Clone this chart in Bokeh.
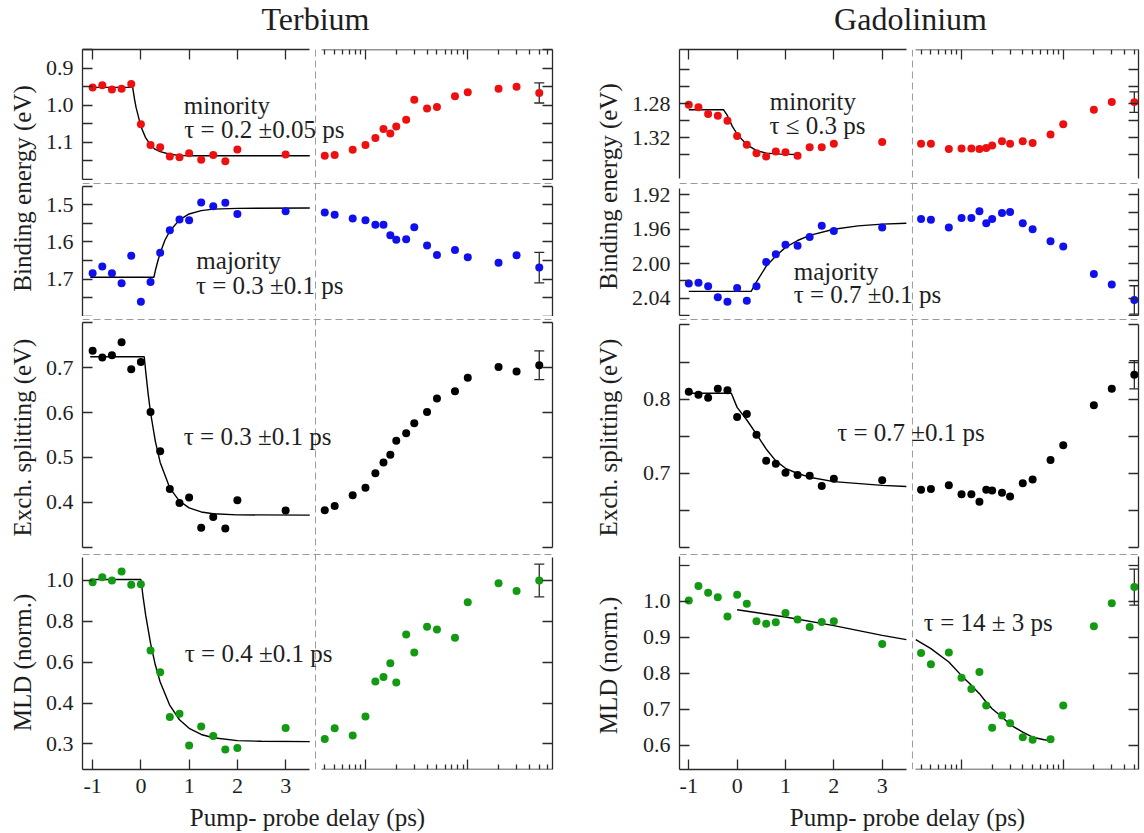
import numpy as np
from bokeh.plotting import figure
from bokeh.models import (Range1d, LinearAxis, FixedTicker, Span, Label, Whisker,
                          TeeHead, ColumnDataSource, LogScale)
from bokeh.layouts import row, column
from bokeh.embed import file_html
from bokeh.resources import INLINE

# ---------------- data ----------------
LIN_T = [-1.0, -0.8, -0.6, -0.4, -0.2, 0.0, 0.2, 0.4, 0.6, 0.8, 1.0, 1.25, 1.5, 1.75, 2.0, 3.0]
LOG_T = [4, 5, 7.5, 10, 12.5, 15, 17.5, 20, 25, 30, 40, 50, 75, 100, 200, 300, 500]

TB_MIN_LIN = [0.952, 0.946, 0.958, 0.956, 0.943, 1.051, 1.107, 1.113, 1.138, 1.140, 1.129, 1.147, 1.134, 1.151, 1.119, 1.133]
TB_MIN_LOG = [1.136, 1.134, 1.120, 1.107, 1.088, 1.064, 1.076, 1.057, 1.039, 0.985, 1.009, 1.005, 0.976, 0.965, 0.956, 0.950, 0.967]
TB_MIN_ERR = 0.027
TB_MAJ_LIN = [1.684, 1.666, 1.684, 1.711, 1.637, 1.761, 1.708, 1.629, 1.569, 1.540, 1.542, 1.494, 1.504, 1.495, 1.525, 1.518]
TB_MAJ_LOG = [1.521, 1.527, 1.537, 1.542, 1.554, 1.554, 1.582, 1.594, 1.593, 1.561, 1.610, 1.635, 1.622, 1.641, 1.656, 1.636, 1.669]
TB_MAJ_ERR = 0.041
TB_EXC_LIN = [0.737, 0.722, 0.727, 0.756, 0.696, 0.712, 0.601, 0.514, 0.430, 0.399, 0.411, 0.344, 0.368, 0.342, 0.405, 0.382]
TB_EXC_LOG = [0.383, 0.392, 0.416, 0.433, 0.465, 0.489, 0.506, 0.537, 0.554, 0.576, 0.601, 0.631, 0.647, 0.677, 0.701, 0.691, 0.705]
TB_EXC_ERR = 0.032
TB_MLD_LIN = [0.992, 1.016, 1.000, 1.044, 0.979, 0.982, 0.657, 0.551, 0.331, 0.347, 0.192, 0.285, 0.239, 0.172, 0.180, 0.278]
TB_MLD_LOG = [0.224, 0.277, 0.241, 0.334, 0.505, 0.527, 0.595, 0.500, 0.736, 0.647, 0.773, 0.760, 0.719, 0.894, 0.987, 0.949, 1.000]
TB_MLD_ERR = 0.080

GD_MIN_LIN = [1.281, 1.284, 1.292, 1.294, 1.300, 1.318, 1.328, 1.338, 1.342, 1.336, 1.337, 1.341, 1.331, 1.331, 1.327, 1.325]
GD_MIN_LOG = [1.327, 1.327, 1.333, 1.3325, 1.3325, 1.333, 1.332, 1.329, 1.324, 1.327, 1.324, 1.326, 1.316, 1.304, 1.287, 1.278, 1.278]
GD_MIN_ERR = 0.012
GD_MAJ_LIN = [2.023, 2.022, 2.026, 2.039, 2.044, 2.028, 2.043, 2.026, 1.998, 1.989, 1.978, 1.979, 1.969, 1.956, 1.962, 1.958]
GD_MAJ_LOG = [1.948, 1.949, 1.958, 1.947, 1.947, 1.939, 1.953, 1.948, 1.941, 1.940, 1.953, 1.960, 1.974, 1.980, 2.012, 2.024, 2.042]
GD_MAJ_ERR = 0.0165
GD_EXC_LIN = [0.810, 0.806, 0.802, 0.814, 0.812, 0.776, 0.780, 0.752, 0.717, 0.713, 0.701, 0.698, 0.697, 0.683, 0.693, 0.691]
GD_EXC_LOG = [0.678, 0.679, 0.684, 0.672, 0.672, 0.662, 0.678, 0.677, 0.674, 0.669, 0.687, 0.692, 0.718, 0.738, 0.792, 0.814, 0.833]
GD_EXC_ERR = 0.019
GD_MLD_LIN = [1.003, 1.043, 1.024, 1.012, 0.958, 1.019, 0.994, 0.945, 0.938, 0.942, 0.968, 0.950, 0.929, 0.943, 0.945, 0.882]
GD_MLD_LOG = [0.857, 0.826, 0.858, 0.788, 0.757, 0.804, 0.711, 0.649, 0.683, 0.662, 0.623, 0.616, 0.617, 0.711, 0.931, 0.995, 1.040]
GD_MLD_ERR = 0.050

# fitted curves
FIT_TB_MIN_T = [-1.05, -0.17, -0.13, -0.1, 0.0, 0.1, 0.2, 0.3, 0.4, 0.6, 0.8, 1.0, 1.5, 3.5]
FIT_TB_MIN_Y = [0.952, 0.952, 0.985, 1.006, 1.057, 1.088, 1.107, 1.119, 1.125, 1.132, 1.135, 1.136, 1.136, 1.136]
FIT_TB_MIN_LOG_T = [3.75, 4.1]
FIT_TB_MIN_LOG_Y = [1.136, 1.136]
FIT_TB_MAJ_T = [-1.05, 0.27, 0.3, 0.35, 0.4, 0.5, 0.6, 0.8, 1.0, 1.25, 1.5, 2.0, 3.5]
FIT_TB_MAJ_Y = [1.695, 1.695, 1.677, 1.652, 1.630, 1.595, 1.571, 1.541, 1.525, 1.516, 1.512, 1.510, 1.509]
FIT_TB_EXC_T = [-1.05, 0.07, 0.1, 0.15, 0.2, 0.3, 0.4, 0.6, 0.8, 1.0, 1.25, 1.5, 2.0, 3.5]
FIT_TB_EXC_Y = [0.724, 0.724, 0.691, 0.642, 0.600, 0.536, 0.489, 0.432, 0.403, 0.388, 0.379, 0.375, 0.3725, 0.372]
FIT_TB_MLD_T = [-1.05, 0.0, 0.05, 0.1, 0.2, 0.3, 0.4, 0.6, 0.8, 1.0, 1.25, 1.5, 2.0, 2.5, 3.5]
FIT_TB_MLD_Y = [1.005, 1.005, 0.912, 0.829, 0.693, 0.586, 0.503, 0.388, 0.318, 0.276, 0.246, 0.230, 0.216, 0.2125, 0.211]
FIT_GD_MIN_T = [-1.0, -0.28, -0.2, -0.1, 0.0, 0.1, 0.2, 0.4, 0.6, 0.9, 1.25]
FIT_GD_MIN_Y = [1.287, 1.287, 1.294, 1.3065, 1.3155, 1.322, 1.328, 1.335, 1.338, 1.3392, 1.3396]
FIT_GD_MAJ_T = [-1.0, 0.29, 0.4, 0.6, 0.8, 1.0, 1.25, 1.5, 2.0, 2.5, 3.0, 3.5]
FIT_GD_MAJ_Y = [2.032, 2.032, 2.021, 2.003, 1.991, 1.981, 1.973, 1.967, 1.960, 1.956, 1.954, 1.953]
FIT_GD_EXC_T = [-1.05, -0.12, 0.0, 0.2, 0.4, 0.6, 0.8, 1.0, 1.25, 1.5, 2.0, 3.0, 3.5]
FIT_GD_EXC_Y = [0.808, 0.808, 0.789, 0.772, 0.753, 0.733, 0.717, 0.707, 0.700, 0.695, 0.689, 0.684, 0.6825]
FIT_GD_MLD_T = [0.0, 1.0, 2.0, 3.0, 3.5]
FIT_GD_MLD_Y = [0.977, 0.957, 0.933, 0.906, 0.894]
FIT_GD_MLD_LOG_T = [3.55, 5, 7.5, 10, 12.5, 15, 17.5, 20, 25, 30, 40, 50, 65, 75]
FIT_GD_MLD_LOG_Y = [0.894, 0.869, 0.832, 0.794, 0.767, 0.744, 0.720, 0.702, 0.679, 0.658, 0.637, 0.623, 0.616, 0.614]

# ticks
X_TICKS_LIN = [-1, 0, 1, 2, 3]
X_LABELS_LIN = ["-1", "0", "1", "2", "3"]
X_TICKS_LOG = [10, 100]
X_LABELS_LOG = ["10", "100"]
X_MINOR_LOG = [4, 5, 6, 7, 8, 9, 20, 30, 40, 50, 60, 70, 80, 90, 200, 300, 400, 500, 600]

TB_MIN_TICKS, TB_MIN_TL, TB_MIN_MINOR = [0.9, 1.0, 1.1], ["0.9", "1.0", "1.1"], [0.85, 0.95, 1.05, 1.15, 1.2]
TB_MAJ_TICKS, TB_MAJ_TL, TB_MAJ_MINOR = [1.5, 1.6, 1.7], ["1.5", "1.6", "1.7"], [1.45, 1.55, 1.65, 1.75, 1.8]
TB_EXC_TICKS, TB_EXC_TL, TB_EXC_MINOR = [0.4, 0.5, 0.6, 0.7], ["0.4", "0.5", "0.6", "0.7"], [0.3, 0.8]
TB_MLD_TICKS, TB_MLD_TL, TB_MLD_MINOR = [0.2, 0.4, 0.6, 0.8, 1.0], ["0.3", "0.4", "0.6", "0.8", "1.0"], []
GD_MIN_TICKS, GD_MIN_TL, GD_MIN_MINOR = [1.28, 1.32], ["1.28", "1.32"], [1.24, 1.26, 1.30, 1.34]
GD_MAJ_TICKS, GD_MAJ_TL, GD_MAJ_MINOR = [1.92, 1.96, 2.00, 2.04], ["1.92", "1.96", "2.00", "2.04"], [1.94, 1.98, 2.02, 2.06]
GD_EXC_TICKS, GD_EXC_TL, GD_EXC_MINOR = [0.7, 0.8], ["0.7", "0.8"], [0.6, 0.65, 0.75, 0.85, 0.9]
GD_MLD_TICKS, GD_MLD_TL, GD_MLD_MINOR = [0.6, 0.7, 0.8, 0.9, 1.0], ["0.6", "0.7", "0.8", "0.9", "1.0"], [1.1]

# ---------------- style ----------------
FONT = "Liberation Serif"
TXT = "#1e1e1e"
AXC = "#2a2a2a"
DASHC = "#9a9a9a"
RED, BLUE, BLACK, GREEN = "#ee1010", "#1010ee", "#000000", "#129a12"
TICK_FS = "22px"
LABEL_FS = "25px"

TB_COL = dict(w=520, bl=42, br=8, xlin=(-1.21, 8.531), xlog=(0.01713, 673.6),
              brk=3.62, lin_end=3.5, log_start=3.69)
GD_COL = dict(w=519, bl=54, br=6, xlin=(-1.192, 8.301), xlog=(0.016867, 549.5),
              brk=3.626, lin_end=3.5, log_start=3.55)
FRAME_H = [131, 134, 233, 216]


def style_axis(ax, show_labels, tin, minor_in):
    ax.axis_line_color = AXC
    ax.axis_line_width = 1.3
    ax.major_tick_line_color = AXC
    ax.major_tick_line_width = 1.3
    ax.minor_tick_line_color = AXC
    ax.minor_tick_line_width = 1.3
    ax.major_tick_in = tin
    ax.major_tick_out = 0
    ax.minor_tick_in = minor_in
    ax.minor_tick_out = 0
    ax.major_label_text_font = FONT
    if show_labels:
        ax.major_label_text_color = TXT
        ax.major_label_text_font_size = TICK_FS
        ax.major_label_standoff = 9
    else:
        ax.major_label_text_color = None
        ax.major_label_text_font_size = "0px"
        ax.major_label_standoff = 0


def panel(col, idx, yspec, ticks, tlabels, minor, color, lin_vals, log_vals, err,
          fits, notes):
    ybot, ytop, bounds = yspec
    top_b = 9 if idx == 0 else 2
    bot_b = 36 if idx == 3 else 0
    fh = FRAME_H[idx]
    p = figure(width=col["w"], height=top_b + fh + bot_b,
               x_range=Range1d(*col["xlin"]), y_range=Range1d(ybot, ytop),
               x_axis_type=None, y_axis_type=None, toolbar_location=None,
               output_backend="svg", min_border=0, min_border_left=col["bl"],
               min_border_right=col["br"], min_border_top=top_b, min_border_bottom=bot_b)
    p.outline_line_color = None
    p.background_fill_color = "white"
    p.border_fill_color = "white"
    p.extra_x_ranges = {"log": Range1d(*col["xlog"])}
    p.extra_x_scales = {"log": LogScale()}

    # y axes
    for side in ("left", "right"):
        ax = LinearAxis(ticker=FixedTicker(ticks=ticks, minor_ticks=minor), bounds=bounds)
        style_axis(ax, side == "left", 10, 10)
        if side == "left":
            ax.major_label_overrides = {t: l for t, l in zip(ticks, tlabels)}
        p.add_layout(ax, side)

    # x axes
    if idx in (0, 3):
        side = "above" if idx == 0 else "below"
        labels_on = idx == 3
        lin = LinearAxis(ticker=FixedTicker(ticks=X_TICKS_LIN),
                         bounds=(col["xlin"][0], col["lin_end"]))
        style_axis(lin, labels_on, 10, 10)
        if labels_on:
            lin.major_label_overrides = {t: l for t, l in zip(X_TICKS_LIN, X_LABELS_LIN)}
        p.add_layout(lin, side)
        lg = LinearAxis(x_range_name="log",
                        ticker=FixedTicker(ticks=X_TICKS_LOG, minor_ticks=X_MINOR_LOG),
                        bounds=(col["log_start"], col["xlog"][1]),
                        fixed_location=(ytop if idx == 0 else ybot))
        style_axis(lg, labels_on, 10, 5)
        if labels_on:
            lg.major_label_overrides = {t: l for t, l in zip(X_TICKS_LOG, X_LABELS_LOG)}
        p.add_layout(lg, side)

    # separators
    if idx > 0:
        loc = ytop + (ybot - ytop) / fh
        p.add_layout(Span(location=loc, dimension="width", line_color=DASHC,
                          line_width=1, line_dash="7 4"))
    p.add_layout(Span(location=col["brk"], dimension="height", line_color=DASHC,
                      line_width=1, line_dash="7 4"))

    # fits
    for (ft, fy, rng) in fits:
        p.line(ft, fy, line_color="black", line_width=1.4, x_range_name=rng)

    # error bar on the last point
    src = ColumnDataSource(dict(base=[LOG_T[-1]], upper=[log_vals[-1] + err],
                                lower=[log_vals[-1] - err]))
    w = Whisker(source=src, base="base", upper="upper", lower="lower",
                dimension="height", x_range_name="log", line_color=AXC, line_width=1.3,
                upper_head=TeeHead(size=10, line_color=AXC, line_width=1.3),
                lower_head=TeeHead(size=10, line_color=AXC, line_width=1.3))
    p.add_layout(w)

    # data
    p.scatter(LIN_T, lin_vals, size=8, fill_color=color, line_color=None)
    p.scatter(LOG_T, log_vals, size=8, fill_color=color, line_color=None, x_range_name="log")

    for (txt, x, y, rng) in notes:
        p.add_layout(Label(x=x, y=y, text=txt, x_range_name=rng, text_font=FONT,
                           text_font_size=LABEL_FS, text_color=TXT,
                           text_baseline="alphabetic", text_align="left"))
    return p


def plain_fig(w, h):
    f = figure(width=w, height=h, x_range=Range1d(0, w), y_range=Range1d(h, 0),
               x_axis_type=None, y_axis_type=None, toolbar_location=None,
               output_backend="svg", min_border=0)
    f.outline_line_color = None
    f.background_fill_color = "white"
    f.border_fill_color = "white"
    return f


def txt_label(f, x, y, text, size, angle=0.0, baseline="middle"):
    f.add_layout(Label(x=x, y=y, text=text, angle=angle, text_font=FONT,
                       text_font_size=size, text_color=TXT, text_align="center",
                       text_baseline=baseline))


# ---------------- Terbium ----------------
tb_panels = [
    panel(TB_COL, 0, (1.2027, 0.85, (0.85, 1.2)), TB_MIN_TICKS, TB_MIN_TL, TB_MIN_MINOR, RED,
          TB_MIN_LIN, TB_MIN_LOG, TB_MIN_ERR,
          [(FIT_TB_MIN_T, FIT_TB_MIN_Y, "default"), (FIT_TB_MIN_LOG_T, FIT_TB_MIN_LOG_Y, "log")],
          [("minority", 0.89, 1.001, "default"), ("τ = 0.2 ±0.05 ps", 0.9, 1.065, "default")]),
    panel(TB_COL, 1, (1.8005, 1.4405, (1.45, 1.8)), TB_MAJ_TICKS, TB_MAJ_TL, TB_MAJ_MINOR, BLUE,
          TB_MAJ_LIN, TB_MAJ_LOG, TB_MAJ_ERR,
          [(FIT_TB_MAJ_T, FIT_TB_MAJ_Y, "default")],
          [("majority", 1.15, 1.650, "default"), ("τ = 0.3 ±0.1 ps", 1.14, 1.717, "default")]),
    panel(TB_COL, 2, (0.2911, 0.8089, (0.3, 0.8)), TB_EXC_TICKS, TB_EXC_TL, TB_EXC_MINOR, BLACK,
          TB_EXC_LIN, TB_EXC_LOG, TB_EXC_ERR,
          [(FIT_TB_EXC_T, FIT_TB_EXC_Y, "default")],
          [("τ = 0.3 ±0.1 ps", 0.89, 0.5467, "default")]),
    panel(TB_COL, 3, (0.0744, 1.1322, (0.0744, 1.112)), TB_MLD_TICKS, TB_MLD_TL, TB_MLD_MINOR, GREEN,
          TB_MLD_LIN, TB_MLD_LOG, TB_MLD_ERR,
          [(FIT_TB_MLD_T, FIT_TB_MLD_Y, "default")],
          [("τ = 0.4 ±0.1 ps", 0.91, 0.644, "default")]),
]

# ---------------- Gadolinium ----------------
gd_panels = [
    panel(GD_COL, 0, (1.3702, 1.2161, (1.2161, 1.368)), GD_MIN_TICKS, GD_MIN_TL, GD_MIN_MINOR, RED,
          GD_MIN_LIN, GD_MIN_LOG, GD_MIN_ERR,
          [(FIT_GD_MIN_T, FIT_GD_MIN_Y, "default")],
          [("minority", 0.675, 1.2772, "default"), ("τ ≤ 0.3 ps", 0.67, 1.3054, "default")]),
    panel(GD_COL, 1, (2.0612, 1.9057, (1.913, 2.06)), GD_MAJ_TICKS, GD_MAJ_TL, GD_MAJ_MINOR, BLUE,
          GD_MAJ_LIN, GD_MAJ_LOG, GD_MAJ_ERR,
          [(FIT_GD_MAJ_T, FIT_GD_MAJ_Y, "default")],
          [("majority", 1.17, 2.0086, "default"), ("τ = 0.7 ±0.1 ps", 1.17, 2.036, "default")]),
    panel(GD_COL, 2, (0.5950, 0.9086, (0.6, 0.9)), GD_EXC_TICKS, GD_EXC_TL, GD_EXC_MINOR, BLACK,
          GD_EXC_LIN, GD_EXC_LOG, GD_EXC_ERR,
          [(FIT_GD_EXC_T, FIT_GD_EXC_Y, "default")],
          [("τ = 0.7 ±0.1 ps", 2.07, 0.7556, "default")]),
    panel(GD_COL, 3, (0.5333, 1.1333, (0.5333, 1.125)), GD_MLD_TICKS, GD_MLD_TL, GD_MLD_MINOR, GREEN,
          GD_MLD_LIN, GD_MLD_LOG, GD_MLD_ERR,
          [(FIT_GD_MLD_T, FIT_GD_MLD_Y, "default"), (FIT_GD_MLD_LOG_T, FIT_GD_MLD_LOG_Y, "log")],
          [("τ = 14 ± 3 ps", 4.26, 0.9425, "log")]),
]

STRIP_H = 765

tb_title = plain_fig(560, 40)
txt_label(tb_title, 315, 18, "Terbium", "32px")
tb_strip = plain_fig(40, STRIP_H)
txt_label(tb_strip, 22, 148, "Binding energy (eV)", LABEL_FS, angle=np.pi / 2)
txt_label(tb_strip, 22, 397, "Exch. splitting (eV)", LABEL_FS, angle=np.pi / 2)
txt_label(tb_strip, 22, 622, "MLD (norm.)", LABEL_FS, angle=np.pi / 2)
tb_xl = plain_fig(560, 28)
txt_label(tb_xl, 307, 12, "Pump- probe delay (ps)", LABEL_FS)

gd_title = plain_fig(584, 40)
txt_label(gd_title, 350, 18, "Gadolinium", "32px")
gd_strip = plain_fig(65, STRIP_H)
txt_label(gd_strip, 48, 146, "Binding energy (eV)", LABEL_FS, angle=np.pi / 2)
txt_label(gd_strip, 48, 397, "Exch. splitting (eV)", LABEL_FS, angle=np.pi / 2)
txt_label(gd_strip, 48, 625, "MLD (norm.)", LABEL_FS, angle=np.pi / 2)
gd_xl = plain_fig(584, 28)
txt_label(gd_xl, 347, 12, "Pump- probe delay (ps)", LABEL_FS)

tb = column(tb_title, row(tb_strip, column(*tb_panels)), tb_xl)
gd = column(gd_title, row(gd_strip, column(*gd_panels)), gd_xl)
layout = row(tb, gd)

open("out.html", "w").write(file_html(layout, INLINE))
